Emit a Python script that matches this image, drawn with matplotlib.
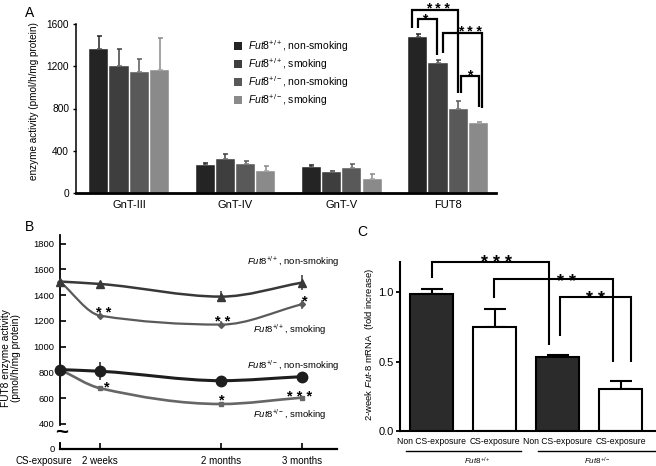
import numpy as np
import matplotlib.pyplot as plt
from matplotlib.patches import Patch, PathPatch
from matplotlib.path import Path
from matplotlib.transforms import ScaledTranslation

plt.rcParams['font.family'] = ['Liberation Sans', 'DejaVu Sans']
plt.rcParams['mathtext.fontset'] = 'custom'
plt.rcParams['mathtext.rm'] = 'Liberation Sans'
plt.rcParams['mathtext.it'] = 'Liberation Sans:italic'
plt.rcParams['mathtext.bf'] = 'Liberation Sans:bold'

# ---- panel A data: enzyme activity (pmol/h/mg protein)
enzymes = ["GnT-III", "GnT-IV", "GnT-V", "FUT8"]
group_labels = [r"$\mathit{Fut8}^{+/+}$, non-smoking",
                r"$\mathit{Fut8}^{+/+}$, smoking",
                r"$\mathit{Fut8}^{+/-}$, non-smoking",
                r"$\mathit{Fut8}^{+/-}$, smoking"]
act_wt_non = [1360, 265, 245, 1478]
act_wt_smk = [1200, 325, 202, 1232]
act_het_non = [1150, 275, 238, 795]
act_het_smk = [1160, 205, 132, 660]
err_wt_non = [130, 20, 16, 25]
err_wt_smk = [165, 40, 10, 30]
err_het_non = [120, 30, 40, 75]
err_het_smk = [310, 55, 45, 15]

# ---- panel B data: FUT8 activity over time
time_months = [0, 0.5, 2, 3]
time_labels = ["CS-exposure", "2 weeks", "2 months", "3 months"]
fut_wt_non = [1505, 1486, 1388, 1496]
fut_wt_smk = [1505, 1240, 1171, 1328]
fut_het_non = [822, 809, 736, 767]
fut_het_smk = [822, 677, 555, 604]
fut_wt_non_err = [12, 12, 45, 60]
fut_wt_smk_err = [12, 25, 30, 35]
fut_het_non_err = [20, 70, 38, 0]
fut_het_smk_err = [8, 10, 10, 8]
b_yticks = [400, 600, 800, 1000, 1200, 1400, 1600, 1800]

# ---- panel C data: 2-week Fut-8 mRNA
mrna_labels = ["Non CS-exposure", "CS-exposure", "Non CS-exposure", "CS-exposure"]
mrna_vals = [0.99, 0.75, 0.53, 0.30]
mrna_err = [0.03, 0.13, 0.015, 0.06]

fig = plt.figure(figsize=(6.56, 4.66), dpi=100)


def bracket(ax, x1, x2, ytop, y1, y2, lw):
    ax.plot([x1, x1, x2, x2], [y1, ytop, ytop, y2], color='black', lw=lw,
            clip_on=False, solid_joinstyle='miter', solid_capstyle='butt')


def stars(ax, x, y, s, fs):
    ax.annotate(s, (x, y), xytext=(0, -0.62 * fs), textcoords='offset points',
                ha='center', va='baseline', fontsize=fs, fontweight='bold',
                annotation_clip=False)


# ================= A =================
axA = fig.add_axes([76 / 656, 273 / 466, 420 / 656, 169 / 466])
xa = np.arange(len(enzymes))
offs = [-0.286, -0.095, 0.095, 0.286]
bar_colors = ['#242424', '#3e3e3e', '#595959', '#8a8a8a']
series = [act_wt_non, act_wt_smk, act_het_non, act_het_smk]
errs = [err_wt_non, err_wt_smk, err_het_non, err_het_smk]
for vals, e, off, c in zip(series, errs, offs, bar_colors):
    axA.errorbar(xa + off, vals, yerr=[np.zeros(len(vals)), e], fmt='none',
                 ecolor=c, elinewidth=1.1, capsize=1.8, capthick=1.1, zorder=1)
    axA.bar(xa + off, vals, width=0.18, color=c, edgecolor='white', linewidth=0.3, zorder=2)
axA.set_xlim(-0.5, 3.45)
axA.set_ylim(0, 1600)
axA.set_yticks([0, 400, 800, 1200, 1600])
axA.set_xticks(xa)
axA.set_xticklabels(enzymes)
axA.tick_params(axis='x', length=0, labelsize=8, pad=5)
axA.tick_params(axis='y', length=2.5, width=1, labelsize=7.3, pad=2.5)
for s in ['top', 'right']:
    axA.spines[s].set_visible(False)
axA.spines['left'].set_linewidth(1.1)
axA.spines['bottom'].set_linewidth(2)
fig.text(34 / 656, 1 - 101 / 466, "enzyme activity (pmol/h/mg protein)", rotation=90,
         ha='center', va='center', fontsize=7.2)
axA.legend(handles=[Patch(facecolor=c, edgecolor='none', label=l)
                    for c, l in zip(bar_colors, group_labels)],
           loc='upper left', bbox_to_anchor=(0.376, 0.918), frameon=False, fontsize=7.5,
           handlelength=0.75, handleheight=0.75, handletextpad=0.6, labelspacing=0.22,
           borderpad=0, borderaxespad=0)

b1, b2, b3, b4 = [3 + o for o in offs]
bracket(axA, b1 - 0.055, b3, 1732, 1562, 947, 1.6)
bracket(axA, b1, b2 - 0.01, 1644, 1562, 1306, 1.6)
bracket(axA, b2 + 0.045, b4 + 0.03, 1512, 1325, 805, 1.6)
bracket(axA, b3 + 0.024, b4, 1108, 950, 817, 1.6)
stars(axA, 2.905, 1790, "* * *", 10)
stars(axA, 2.775, 1682, "*", 10)
stars(axA, 3.206, 1572, "* * *", 10)
stars(axA, 3.206, 1155, "*", 10)

# ================= B =================
axB = fig.add_axes([60 / 656, 17 / 466, 277 / 656, 214 / 466])
b_ybottom = 206


def smooth_path(x, y):
    # cubic Bezier through the points, monotone-style tangents
    x = np.asarray(x, float)
    y = np.asarray(y, float)
    h = np.diff(x)
    d = np.diff(y) / h
    m = np.zeros(len(x))
    m[0], m[-1] = d[0], d[-1]
    for k in range(1, len(x) - 1):
        if d[k - 1] * d[k] > 0:
            w1 = 2 * h[k] + h[k - 1]
            w2 = h[k] + 2 * h[k - 1]
            m[k] = (w1 + w2) / (w1 / d[k - 1] + w2 / d[k])
    verts = [(x[0], y[0])]
    codes = [Path.MOVETO]
    for k in range(len(x) - 1):
        verts += [(x[k] + h[k] / 3, y[k] + m[k] * h[k] / 3),
                  (x[k + 1] - h[k] / 3, y[k + 1] - m[k + 1] * h[k] / 3),
                  (x[k + 1], y[k + 1])]
        codes += [Path.CURVE4] * 3
    return Path(verts, codes)


b_series = [
    (fut_wt_smk, fut_wt_smk_err, '#5a5a5a', 1.6, 'D', 3.0),
    (fut_het_smk, fut_het_smk_err, '#666666', 1.9, 's', 3.5),
    (fut_wt_non, fut_wt_non_err, '#383838', 1.8, '^', 5.5),
    (fut_het_non, fut_het_non_err, '#1e1e1e', 2.2, 'o', 7.5),
]
for vals, e, c, lw, mk, ms in b_series:
    axB.add_patch(PathPatch(smooth_path(time_months, vals), fill=False, edgecolor=c,
                            lw=lw, clip_on=False, zorder=2))
    axB.errorbar(time_months, vals, yerr=e, fmt=mk, color=c, ms=ms, mec=c,
                 elinewidth=1.1, capsize=0, clip_on=False, zorder=3)

axB.set_xlim(0, 3.44)
axB.set_ylim(b_ybottom, 1866)
axB.set_xticks(time_months)
axB.set_xticklabels(time_labels)
axB.set_yticks([b_ybottom] + b_yticks)
axB.set_yticklabels(['0'] + [str(v) for v in b_yticks])
axB.tick_params(axis='both', direction='in', length=4, width=1.2)
axB.tick_params(axis='x', labelsize=7, pad=5)
axB.tick_params(axis='y', labelsize=6.8, pad=4)
xl = axB.get_xticklabels()[0]
xl.set_transform(xl.get_transform() + ScaledTranslation(-0.16, 0, fig.dpi_scale_trans))
for s in ['top', 'right']:
    axB.spines[s].set_visible(False)
axB.spines['left'].set_linewidth(1.3)
axB.spines['left'].set_bounds(392, 1866)
axB.spines['bottom'].set_linewidth(1.6)
axB.plot([0, 0], [b_ybottom, 262], color='black', lw=1.3, clip_on=False,
         solid_capstyle='butt')
axB.text(0.02, 330, "~", ha='center', va='center', fontsize=16, fontweight='bold',
         clip_on=False)
fig.text(11 / 656, 1 - 358 / 466, "FUT8 enzyme activity\n(pmol/h/mg protein)", rotation=90,
         ha='center', va='center', fontsize=7.3, linespacing=1.0)

axB.text(3.47, 1657, r"$\mathit{Fut8}^{+/+}$, non-smoking", ha='right', va='center',
         fontsize=6.8, clip_on=False)
axB.text(3.31, 1129, r"$\mathit{Fut8}^{+/+}$, smoking", ha='right', va='center', fontsize=6.8)
axB.text(3.47, 850, r"$\mathit{Fut8}^{+/-}$, non-smoking", ha='right', va='center',
         fontsize=6.8, clip_on=False)
axB.text(3.31, 470, r"$\mathit{Fut8}^{+/-}$, smoking", ha='right', va='center', fontsize=6.8)
stars(axB, 0.546, 1297, "* *", 10.5)
stars(axB, 2.02, 1233, "* *", 10.5)
stars(axB, 3.04, 1390, "*", 10.5)
stars(axB, 0.587, 720, "*", 10.5)
stars(axB, 2.01, 625, "*", 10.5)
stars(axB, 2.98, 650, "* * *", 10.5)

# ================= C =================
axC = fig.add_axes([400 / 656, 35 / 466, 255 / 656, 169.3 / 466])
xc = np.arange(len(mrna_vals))
c_fill = ['#2b2b2b', 'white', '#2b2b2b', 'white']
axC.errorbar(xc, mrna_vals, yerr=[np.zeros(len(xc)), mrna_err], fmt='none', ecolor='black',
             elinewidth=1.5, capsize=8, capthick=1.5, zorder=1)
axC.bar(xc, mrna_vals, width=0.68, color=c_fill, edgecolor='black', linewidth=1.5, zorder=2)
axC.set_xlim(-0.5, 3.54)
axC.set_ylim(0, 1.22)
axC.set_yticks([0.0, 0.5, 1.0])
axC.set_yticklabels(['0.0', '0.5', '1.0'])
axC.set_xticks(xc)
axC.set_xticklabels(mrna_labels)
axC.tick_params(axis='x', length=0, labelsize=6.2, pad=4)
axC.tick_params(axis='y', length=3, width=1.3, labelsize=8, pad=1.5)
for s in ['top', 'right']:
    axC.spines[s].set_visible(False)
axC.spines['left'].set_linewidth(1.5)
axC.spines['bottom'].set_linewidth(1.5)
fig.text(369 / 656, 1 - 345 / 466,
         r"2-week $\mathit{Fut}$-$\mathit{8}$ mRNA  (fold increase)", rotation=90,
         ha='center', va='center', fontsize=6.8)

axC.plot([-0.41, 1.415], [-0.144, -0.144], color='black', lw=1.0, clip_on=False)
axC.plot([1.685, 3.54], [-0.144, -0.144], color='black', lw=1.0, clip_on=False)
axC.text(0.73, -0.216, r"$\mathit{Fut8}^{+/+}$", ha='center', va='center', fontsize=5.8)
axC.text(2.62, -0.216, r"$\mathit{Fut8}^{+/-}$", ha='center', va='center', fontsize=5.8)

bracket(axC, 0.0, 1.864, 1.216, 1.103, 0.62, 1.5)
bracket(axC, 0.99, 2.878, 1.094, 0.959, 0.50, 1.5)
bracket(axC, 2.033, 3.158, 0.964, 0.685, 0.50, 1.5)
stars(axC, 1.03, 1.257, "* * *", 13)
stars(axC, 2.14, 1.117, "* *", 13)
stars(axC, 2.59, 0.997, "* *", 13)

# panel letters
fig.text(30 / 656, 1 - 13 / 466, "A", fontsize=10, ha='center', va='center')
fig.text(30 / 656, 1 - 227 / 466, "B", fontsize=10, ha='center', va='center')
fig.text(362 / 656, 1 - 232 / 466, "C", fontsize=10, ha='center', va='center')

fig.savefig("out.png", dpi=100)
